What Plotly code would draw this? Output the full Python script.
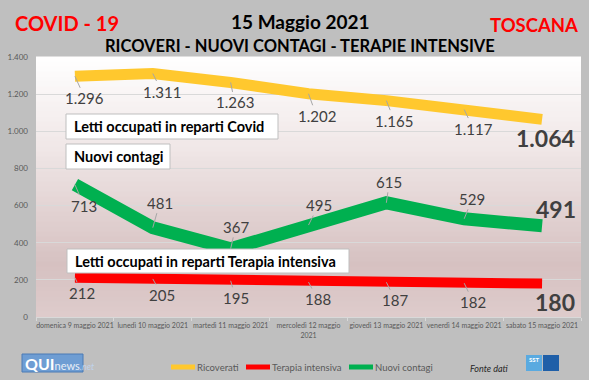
import plotly.graph_objects as go

# ---------------- data ----------------
categories = ["domenica 9 maggio 2021", "lunedì 10 maggio 2021", "martedì 11 maggio 2021",
              "mercoledì 12 maggio 2021", "giovedì 13 maggio 2021", "venerdì 14 maggio 2021",
              "sabato 15 maggio 2021"]
tick_labels = ["domenica 9 maggio 2021", "lunedì 10 maggio 2021", "martedì 11 maggio 2021",
               "mercoledì 12 maggio<br>2021", "giovedì 13 maggio 2021", "venerdì 14 maggio 2021",
               "sabato 15 maggio 2021"]
ricoverati = [1296, 1311, 1263, 1202, 1165, 1117, 1064]
nuovi_contagi = [713, 481, 367, 495, 615, 529, 491]
terapia_intensiva = [212, 205, 195, 188, 187, 182, 180]
y_ticks = [0, 200, 400, 600, 800, 1000, 1200, 1400]
legend_names = ["Ricoverati", "Terapia intensiva", "Nuovi contagi"]

# ---------------- styling / layout helpers ----------------
W, H = 589, 380
L, R, T, B = 36, 8, 57, 63
PW, PH = W - L - R, H - T - B

def xp(px):
    return (px - L) / PW

def yp(py):
    return (H - B - py) / PH

YELLOW, RED, GREEN = "#FFC82E", "#FF0000", "#00B050"
LABEL_COL = "#404040"
FONT = "Lato"

# label offsets (pixels) relative to each point
off_ric = [(10, 22), (9, 18), (4, 20), (8, 22), (8, 20), (9, 19), (3, 19)]
off_nc = [(9, 21), (7, -25), (5, -22), (10, -20), (3, -21), (8, -20), (14, -17)]
off_ti = [(7, 15), (9, 16), (5, 17), (9, 17), (9, 18), (9, 19), (13, 18)]

def fmt(v):
    return f"{v:,}".replace(",", ".")

fig = go.Figure()

for name, vals, col, lw in [("Ricoverati", ricoverati, YELLOW, 11),
                            ("Nuovi contagi", nuovi_contagi, GREEN, 13),
                            ("Terapia intensiva", terapia_intensiva, RED, 10)]:
    fig.add_trace(go.Scatter(x=categories, y=vals, mode="lines", name=name,
                             line=dict(color=col, width=lw), showlegend=False,
                             hoverinfo="skip"))

annotations = []
for vals, offs in [(ricoverati, off_ric), (nuovi_contagi, off_nc), (terapia_intensiva, off_ti)]:
    n = len(vals)
    for i, (c, v) in enumerate(zip(categories, vals)):
        ax, ay = offs[i]
        last = i == n - 1
        if last:
            annotations.append(dict(x=c, y=v, xref="x", yref="y", text=f"<b>{fmt(v)}</b>",
                                    showarrow=False, xshift=ax, yshift=-ay,
                                    font=dict(family=FONT, size=23, color=LABEL_COL)))
        else:
            annotations.append(dict(x=c, y=v, xref="x", yref="y", text=fmt(v),
                                    showarrow=True, arrowhead=0, arrowwidth=1,
                                    arrowcolor="#A6A6A6", ax=ax, ay=ay, standoff=0,
                                    font=dict(family=FONT, size=15, color=LABEL_COL)))

shapes = []
# gradient plot background
def lerp(c1, c2, t):
    return tuple(round(a + (b - a) * t) for a, b in zip(c1, c2))

stops = [(0.0, (255, 255, 255)), (0.35, (240, 231, 231)), (0.8, (214, 193, 193)), (1.0, (222, 204, 204))]
N = 52
for k in range(N):
    t = (k + 0.5) / N
    for j in range(len(stops) - 1):
        if stops[j][0] <= t <= stops[j + 1][0]:
            tt = (t - stops[j][0]) / (stops[j + 1][0] - stops[j][0])
            c = lerp(stops[j][1], stops[j + 1][1], tt)
            break
    y0 = 1 - k / N
    y1 = 1 - (k + 1) / N
    shapes.append(dict(type="rect", xref="paper", yref="paper", x0=0, x1=1, y0=y1, y1=y0 + 0.002,
                       fillcolor=f"rgb{c}", line=dict(width=0), layer="below"))

# text boxes
boxes = [("Letti occupati in reparti Covid", 66, 114, 278, 139),
         ("Nuovi contagi", 66, 144, 170, 169),
         ("Letti occupati in reparti Terapia intensiva", 67, 249, 349, 273)]
for txt, x0, y0, x1, y1 in boxes:
    shapes.append(dict(type="rect", xref="paper", yref="paper", x0=xp(x0), x1=xp(x1),
                       y0=yp(y1), y1=yp(y0), fillcolor="white",
                       line=dict(color="#BFBFBF", width=1), layer="above"))
    annotations.append(dict(x=xp(x0 + 6), y=yp((y0 + y1) / 2), xref="paper", yref="paper",
                            xanchor="left", yanchor="middle", showarrow=False,
                            text=f"<b>{txt}</b>", font=dict(family=FONT, size=14.5, color="#000000")))

# manual legend (swatch + label)
legend_cols = [YELLOW, RED, GREEN]
legend_x = [171, 246, 349]
LEG_Y = 367
for name, col, lx in zip(legend_names, legend_cols, legend_x):
    shapes.append(dict(type="line", xref="paper", yref="paper", x0=xp(lx), x1=xp(lx + 24),
                       y0=yp(LEG_Y), y1=yp(LEG_Y), line=dict(color=col, width=5), layer="above"))
    annotations.append(dict(x=xp(lx + 24), y=yp(LEG_Y), xref="paper", yref="paper",
                            xanchor="left", yanchor="middle", showarrow=False, text=name,
                            font=dict(family=FONT, size=9.5, color="#595959")))

# titles
annotations += [
    dict(x=xp(13), y=yp(23), xref="paper", yref="paper", xanchor="left", yanchor="middle",
         showarrow=False, text="<b>COVID - 19</b>", font=dict(family=FONT, size=20, color="#FF0000")),
    dict(x=xp(580), y=yp(25), xref="paper", yref="paper", xanchor="right", yanchor="middle",
         showarrow=False, text="<b>TOSCANA</b>", font=dict(family=FONT, size=18.5, color="#FF0000")),
    dict(x=xp(300), y=yp(21), xref="paper", yref="paper", xanchor="center", yanchor="middle",
         showarrow=False, text="<b>15 Maggio 2021</b>", font=dict(family=FONT, size=19, color="#000000")),
    dict(x=xp(300), y=yp(46), xref="paper", yref="paper", xanchor="center", yanchor="middle",
         showarrow=False, text="<b>RICOVERI - NUOVI CONTAGI - TERAPIE INTENSIVE</b>",
         font=dict(family=FONT, size=16.5, color="#000000")),
    dict(x=xp(489), y=yp(368), xref="paper", yref="paper", xanchor="center", yanchor="middle",
         showarrow=False, text="<i>Fonte dati</i>", font=dict(family=FONT, size=9, color="#262626")),
]

# QUInews logo
shapes.append(dict(type="rect", xref="paper", yref="paper", x0=xp(22), x1=xp(83), y0=yp(372), y1=yp(354),
                   fillcolor="#6E9DD3", line=dict(color="#4A7AB5", width=1), layer="above"))
annotations.append(dict(x=xp(23), y=yp(363), xref="paper", yref="paper", xanchor="left", yanchor="middle",
                        showarrow=False,
                        text="<b>QUI</b><span style='font-size:11px;color:#E8EEF6'>news</span><i style='font-size:9px;color:#BFD3EC'>.net</i>",
                        font=dict(family=FONT, size=16, color="#FFFFFF")))
# SST logo
shapes.append(dict(type="rect", xref="paper", yref="paper", x0=xp(526), x1=xp(542), y0=yp(371), y1=yp(355),
                   fillcolor="#5AAAE0", line=dict(width=0), layer="above"))
shapes.append(dict(type="rect", xref="paper", yref="paper", x0=xp(543), x1=xp(559), y0=yp(371), y1=yp(355),
                   fillcolor="#1F5FA8", line=dict(width=0), layer="above"))
annotations.append(dict(x=xp(534), y=yp(359), xref="paper", yref="paper", xanchor="center", yanchor="middle",
                        showarrow=False, text="<b>SST</b>", font=dict(family=FONT, size=6, color="#FFFFFF")))

fig.update_layout(
    width=W, height=H, autosize=False,
    margin=dict(l=L, r=R, t=T, b=B, autoexpand=False),
    paper_bgcolor="#BFBFBF", plot_bgcolor="#FFFFFF",
    separators=",.",
    font=dict(family=FONT, color="#595959"),
    shapes=shapes, annotations=annotations,
    showlegend=False,
    xaxis=dict(type="category", categoryorder="array", categoryarray=categories,
               tickmode="array", tickvals=categories, ticktext=tick_labels, tickangle=0,
               tickfont=dict(family=FONT, size=7, color="#595959"),
               showgrid=False, showline=True, linecolor="#D9D9D9", linewidth=1,
               ticks="outside", tickson="boundaries", ticklen=3, tickcolor="#D9D9D9",
               ticklabelstandoff=2,
               range=[-0.5, 6.5], fixedrange=True, automargin=False),
    yaxis=dict(range=[0, 1400], tickvals=y_ticks, tickformat=",d",
               tickfont=dict(family=FONT, size=8, color="#595959"),
               showgrid=True, gridcolor="#D9D9D9", gridwidth=1, zeroline=False,
               ticks="", ticklen=0, ticklabelstandoff=7,
               fixedrange=True, automargin=False),
)

fig.write_html("out.html", config={"displayModeBar": False},
               post_script="document.body.style.margin='0px';document.body.style.overflow='hidden';")
